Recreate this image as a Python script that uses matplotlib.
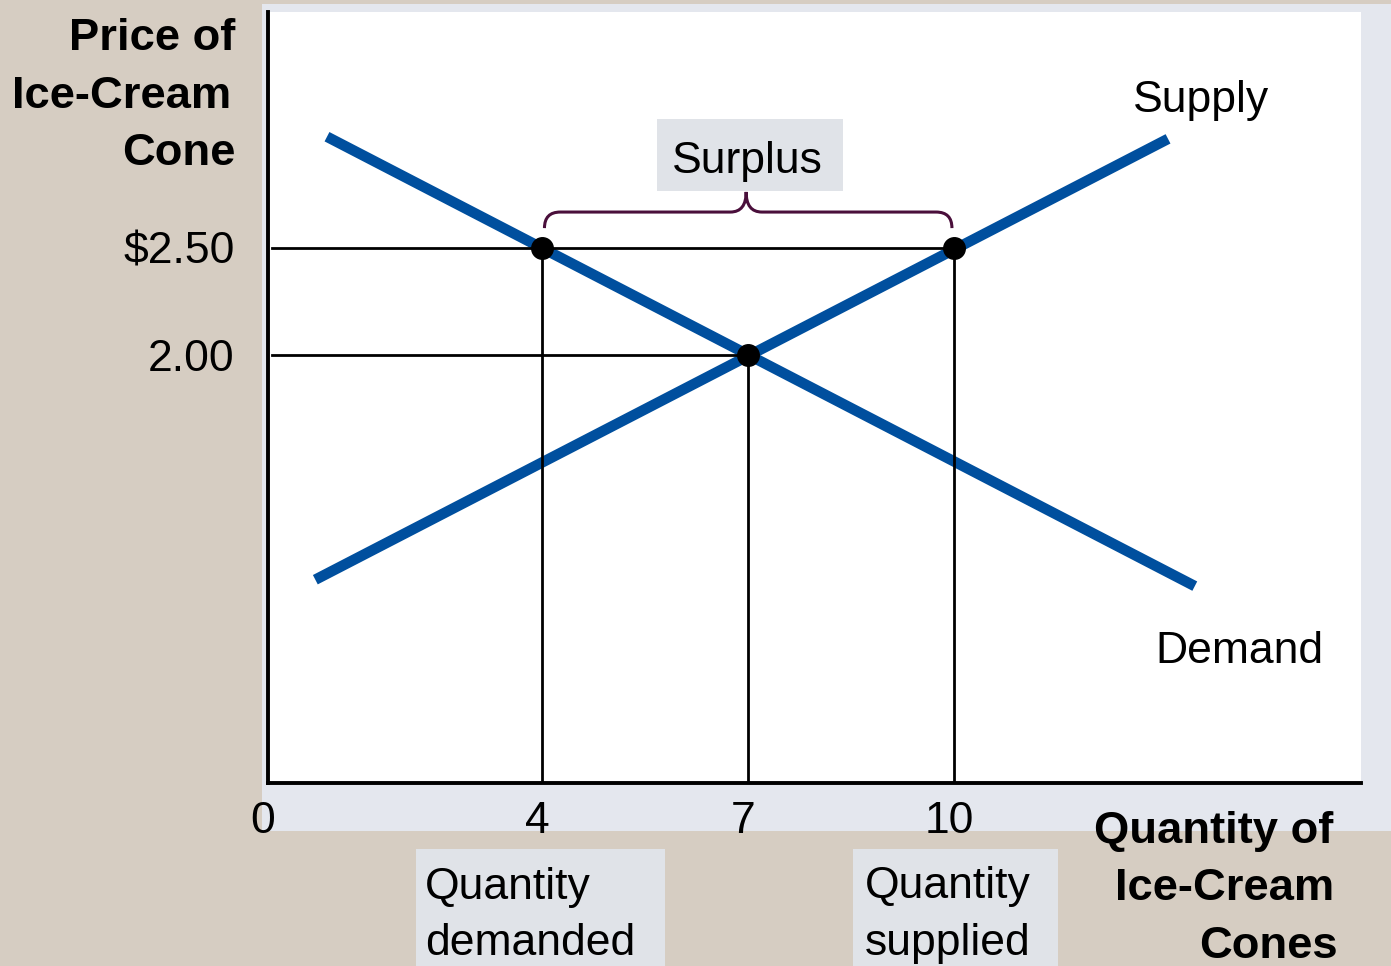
import matplotlib
matplotlib.use("Agg")
import matplotlib.pyplot as plt
from matplotlib.patches import Rectangle, PathPatch
from matplotlib.path import Path
from matplotlib.transforms import ScaledTranslation

plt.rcParams['font.family'] = ['Liberation Sans', 'DejaVu Sans']

# ---- data ----
demand_q = [0.86, 13.51]
demand_p = [3.02, 0.92]
supply_q = [0.69, 13.12]
supply_p = [0.95, 3.01]
price_high = 2.50
price_eq = 2.00
q_demanded = 4
q_eq = 7
q_supplied = 10
x_ticks = [0, 4, 7, 10]
x_tick_labels = ["0", "4", "7", "10"]
y_ticks = [2.50, 2.00]
y_tick_labels = ["$2.50", "2.00"]

W, H = 1391, 966
BG = '#d6cdc2'
PANEL = '#e4e7ee'
BOX = '#e0e3e8'
BLUE = '#004f9e'
BRACE = '#4a0f3b'
FS = 32
FSB = 32.7

def fx(px):
    return px / W

def fy(py):
    return 1 - py / H

fig = plt.figure(figsize=(W / 100, H / 100), dpi=100, facecolor=BG)

# light panel behind plot
fig.patches.append(Rectangle((fx(262), fy(831)), 1 - fx(262), fy(4) - fy(831),
                             transform=fig.transFigure, facecolor=PANEL,
                             edgecolor='none', zorder=-1))

ax = fig.add_axes([fx(268), fy(783), fx(1361) - fx(268), fy(12) - fy(783)])
ax.set_zorder(0)
ax.set_facecolor('white')
ax.set_xlim(0, (1361 - 268) / 68.6)
ax.set_ylim(0, (783 - 12) / 214.0)
for s in ['top', 'right']:
    ax.spines[s].set_visible(False)
for s in ['left', 'bottom']:
    ax.spines[s].set_linewidth(2.8)
    ax.spines[s].set_color('black')

ax.set_xticks(x_ticks, x_tick_labels)
ax.set_yticks(y_ticks, y_tick_labels)
ax.tick_params(axis='both', length=0, labelsize=FS)
ax.tick_params(axis='x', pad=13)
ax.tick_params(axis='y', pad=24)
shift = ScaledTranslation(-5 / 100, 0, fig.dpi_scale_trans)
for lab in ax.get_xticklabels():
    lab.set_transform(lab.get_transform() + shift)

# curves
ax.plot(demand_q, demand_p, color=BLUE, lw=7.6, solid_capstyle='butt', zorder=2)
ax.plot(supply_q, supply_p, color=BLUE, lw=7.6, solid_capstyle='butt', zorder=2)

# guide lines
lw = 2.0
ax.plot([0.06, q_supplied], [price_high, price_high], color='black', lw=lw, zorder=3)
ax.plot([0.06, q_eq], [price_eq, price_eq], color='black', lw=lw, zorder=3)
ax.plot([q_demanded, q_demanded], [0, price_high], color='black', lw=lw, zorder=3)
ax.plot([q_eq, q_eq], [0, price_eq], color='black', lw=lw, zorder=3)
ax.plot([q_supplied, q_supplied], [0, price_high], color='black', lw=lw, zorder=3)

# points
ax.plot([q_demanded, q_supplied, q_eq], [price_high, price_high, price_eq], 'o',
        color='black', ms=15.5, zorder=4)

# brace
x0, x1 = q_demanded + 0.03, q_supplied - 0.03
xm = (q_demanded + q_supplied) / 2 - 0.03
yt, yh, yc = price_high + 0.093, price_high + 0.168, price_high + 0.262
r = 0.23
verts = [(x0, yt), (x0, yh), (x0 + r, yh),
         (xm - r, yh),
         (xm, yh), (xm, yc),
         (xm, yh), (xm + r, yh),
         (x1 - r, yh),
         (x1, yh), (x1, yt)]
codes = [Path.MOVETO, Path.CURVE3, Path.CURVE3,
         Path.LINETO,
         Path.CURVE3, Path.CURVE3,
         Path.CURVE3, Path.CURVE3,
         Path.LINETO,
         Path.CURVE3, Path.CURVE3]
ax.add_patch(PathPatch(Path(verts, codes), facecolor='none', edgecolor=BRACE,
                       lw=2.2, zorder=3))

# boxes
for (l, t, r_, b) in [(657, 119, 843, 191), (416, 849, 665, 966), (853, 849, 1058, 966)]:
    fig.patches.append(Rectangle((fx(l), fy(b)), fx(r_) - fx(l), fy(t) - fy(b),
                                 transform=fig.transFigure, facecolor=BOX,
                                 edgecolor='none', zorder=1))

def txt(px, py, s, ha='left', bold=False):
    fig.text(fx(px), fy(py), s, ha=ha, va='baseline', fontsize=FSB if bold else FS,
             fontweight='bold' if bold else 'normal', color='black', zorder=5)

txt(747, 173, "Surplus", ha='center')
txt(1133, 112, "Supply")
txt(1155, 663, "Demand")

txt(235, 50, "Price of", ha='right', bold=True)
txt(231, 108, "Ice-Cream", ha='right', bold=True)
txt(236, 165, "Cone", ha='right', bold=True)

txt(1333, 843, "Quantity of", ha='right', bold=True)
txt(1334, 900, "Ice-Cream", ha='right', bold=True)
txt(1338, 958, "Cones", ha='right', bold=True)

txt(425, 899, "Quantity")
txt(425, 955, "demanded")
txt(865, 898, "Quantity")
txt(865, 955, "supplied")

fig.savefig("out.png", dpi=100, facecolor=BG)
